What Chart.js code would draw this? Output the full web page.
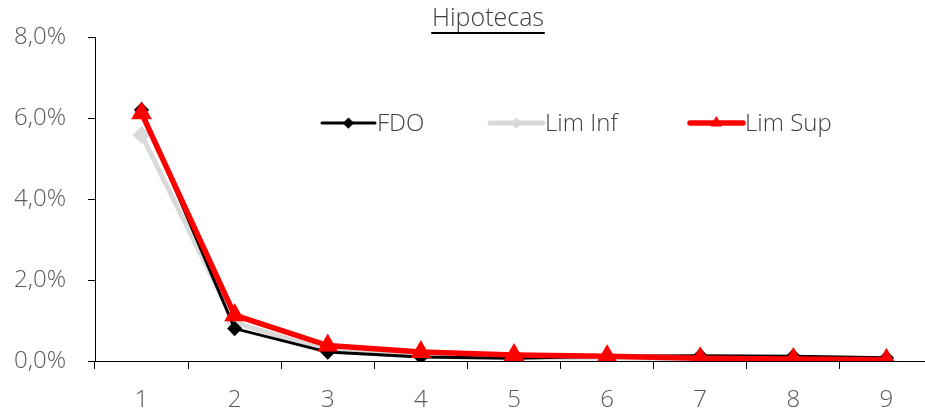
<!DOCTYPE html>
<html>
<head>
<meta charset="utf-8">
<script src="https://cdn.jsdelivr.net/npm/chart.js@4/dist/chart.umd.min.js"></script>
<style>
html,body{margin:0;padding:0;background:#fff;overflow:hidden;width:925px;height:416px;}
#wrap{position:absolute;left:0;top:0;width:945px;height:416px;}
#c{width:945px;height:416px;display:block;}
</style>
</head>
<body>
<div id="wrap"><canvas id="c" width="945" height="416"></canvas></div>
<script>
const categories = ['1','2','3','4','5','6','7','8','9'];
const fdo    = [6.20, 0.80, 0.22, 0.10, 0.07, 0.12, 0.13, 0.12, 0.08];
const limInf = [5.58, 0.95, 0.25, 0.12, 0.08, 0.08, 0.05, 0.04, 0.02];
const limSup = [6.12, 1.13, 0.38, 0.22, 0.15, 0.12, 0.07, 0.05, 0.03];
const yTicks = [0, 2, 4, 6, 8];
const titleText = 'Hipotecas';

const FONT = '"Open Sans", "Noto Sans", sans-serif';
const TXT = '#595959';
const FS = 24;

const legendPos = [322, 490, 690];
const legendPlugin = {
  id: 'customLegend',
  afterDraw(chart) {
    const ctx = chart.ctx;
    ctx.save();
    const y = 123;
    chart.data.datasets.forEach((ds, i) => {
      const x0 = legendPos[i];
      const w = 53;
      ctx.strokeStyle = ds.borderColor;
      ctx.lineWidth = ds.borderWidth;
      ctx.lineCap = 'round';
      ctx.beginPath(); ctx.moveTo(x0, y); ctx.lineTo(x0 + w, y); ctx.stroke();
      ctx.fillStyle = ds.pointBackgroundColor;
      ctx.strokeStyle = ds.pointBorderColor;
      ctx.lineWidth = 1;
      Chart.helpers.drawPoint(ctx, {pointStyle: ds.pointStyle, radius: ds.pointRadius - 0.5, borderWidth: 1, rotation: 0}, x0 + w/2, y);
      ctx.fillStyle = '#404040';
      ctx.font = '300 ' + FS + 'px ' + FONT;
      ctx.textBaseline = 'middle';
      ctx.textAlign = 'left';
      ctx.fillText(ds.label, x0 + w + 2, y + 1);
    });
    // title
    ctx.font = '300 25px ' + FONT;
    ctx.fillStyle = '#404040';
    ctx.textAlign = 'center';
    ctx.textBaseline = 'alphabetic';
    const tx = 488, ty = 26;
    ctx.fillText(titleText, tx, ty);
    const tw = ctx.measureText(titleText).width;
    ctx.strokeStyle = '#000';
    ctx.lineWidth = 2;
    ctx.beginPath(); ctx.moveTo(tx - tw/2, ty + 7); ctx.lineTo(tx + tw/2, ty + 7); ctx.stroke();
    ctx.restore();
  }
};

new Chart(document.getElementById('c'), {
  type: 'line',
  data: {
    labels: categories,
    datasets: [
      {label: 'FDO', data: fdo, borderColor: '#000000', backgroundColor: '#000000',
       borderWidth: 3, pointStyle: 'rectRot', pointRadius: 5.5, pointBackgroundColor: '#000000', pointBorderColor: '#000000', order: 2},
      {label: 'Lim Inf', data: limInf, borderColor: '#d9d9d9', backgroundColor: '#d9d9d9',
       borderWidth: 5, pointStyle: 'rectRot', pointRadius: 5.5, pointBackgroundColor: '#d9d9d9', pointBorderColor: '#d9d9d9', order: 3},
      {label: 'Lim Sup', data: limSup, borderColor: '#ff0000', backgroundColor: '#ff0000',
       borderWidth: 5.5, pointStyle: 'triangle', pointRadius: 6.5, pointBackgroundColor: '#ff0000', pointBorderColor: '#ff0000', order: 1}
    ]
  },
  options: {
    responsive: false,
    animation: false,
    devicePixelRatio: 1,
    layout: {padding: {top: 37, right: 0, left: 0, bottom: 0}},
    plugins: {legend: {display: false}, title: {display: false}, tooltip: {enabled: false}},
    elements: {line: {tension: 0}},
    scales: {
      x: {
        type: 'category',
        offset: true,
        grid: {offset: true, drawOnChartArea: false, drawTicks: true, tickLength: 8, color: '#000', tickWidth: 1},
        border: {display: true, color: '#000', width: 1},
        ticks: {color: TXT, font: {family: FONT, size: FS, weight: 300}, padding: 17, maxRotation: 0},
        afterFit(s) { s.height = 55; }
      },
      y: {
        min: 0, max: 8,
        afterBuildTicks(s) { s.ticks = yTicks.map(v => ({value: v})); },
        grid: {drawOnChartArea: false, drawTicks: true, tickLength: 7, color: '#000'},
        border: {display: true, color: '#000', width: 1},
        ticks: {color: TXT, font: {family: FONT, size: FS, weight: 300}, padding: 22,
          callback: v => v.toFixed(1).replace('.', ',') + '%'},
        afterFit(s) { s.width = 95; }
      }
    }
  },
  plugins: [legendPlugin]
});
</script>
</body>
</html>
